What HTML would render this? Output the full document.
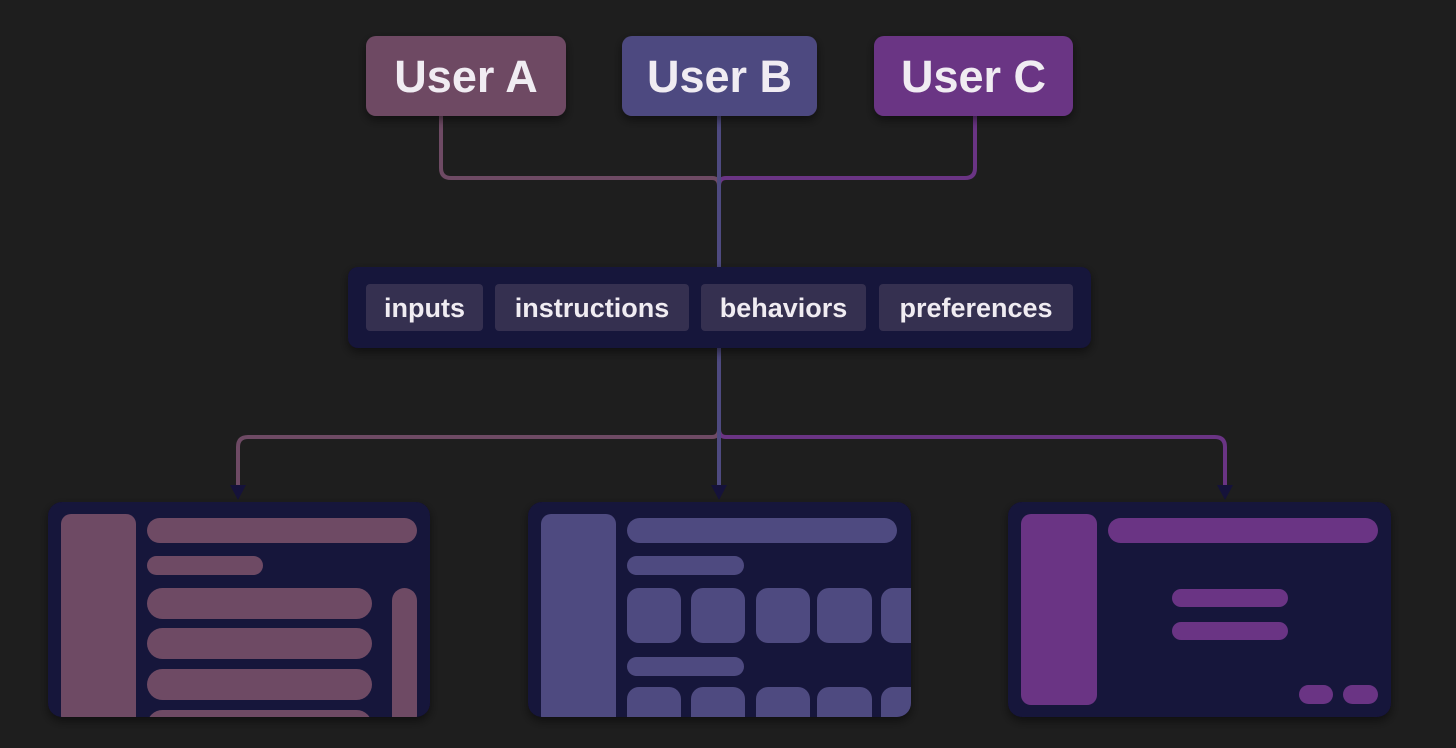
<!DOCTYPE html>
<html><head><meta charset="utf-8"><style>
html,body{margin:0;padding:0;background:#1e1e1e;}
svg{display:block}
text{font-family:"Liberation Sans",sans-serif;font-weight:bold;fill:#f0ecf2}
</style></head><body>
<svg width="1456" height="748" viewBox="0 0 1456 748" xmlns="http://www.w3.org/2000/svg">
<defs>
<filter id="sh" x="-10%" y="-10%" width="120%" height="130%"><feDropShadow dx="0" dy="4" stdDeviation="5" flood-color="#000" flood-opacity="0.5"/></filter>
<clipPath id="c1"><rect x="48" y="502" width="382" height="215" rx="14"/></clipPath>
<clipPath id="c2"><rect x="528" y="502" width="383" height="215" rx="14"/></clipPath>
<clipPath id="c3"><rect x="1008" y="502" width="383" height="215" rx="14"/></clipPath>
</defs>
<path d="M441 116 V168 Q441 178 451 178 H712 Q719 178 719 186" fill="none" stroke="#6e4a64" stroke-width="4"/>
<path d="M975 116 V168 Q975 178 965 178 H726 Q719 178 719 186" fill="none" stroke="#6a3484" stroke-width="4"/>
<line x1="719" y1="116" x2="719" y2="268" stroke="#4e4a80" stroke-width="4"/>
<path d="M719 429 Q719 437 712 437 H248 Q238 437 238 447 V488" fill="none" stroke="#6e4a64" stroke-width="4"/>
<path d="M719 429 Q719 437 726 437 H1215 Q1225 437 1225 447 V488" fill="none" stroke="#6a3484" stroke-width="4"/>
<line x1="719" y1="348" x2="719" y2="488" stroke="#4e4a80" stroke-width="4"/>
<polygon points="230,485 246,485 238,500" fill="#15123a"/>
<polygon points="711,485 727,485 719,500" fill="#15123a"/>
<polygon points="1217,485 1233,485 1225,500" fill="#15123a"/>
<rect x="366" y="36" width="200" height="80" rx="10" fill="#6e4a64" filter="url(#sh)"/>
<rect x="622" y="36" width="195" height="80" rx="10" fill="#4e4a80" filter="url(#sh)"/>
<rect x="874" y="36" width="199" height="80" rx="10" fill="#6a3484" filter="url(#sh)"/>
<text x="466" y="92" font-size="45" text-anchor="middle">User A</text>
<text x="719.5" y="92" font-size="45" text-anchor="middle">User B</text>
<text x="973.5" y="92" font-size="45" text-anchor="middle">User C</text>
<rect x="348" y="267" width="743" height="81" rx="10" fill="#15123a" filter="url(#sh)"/>
<rect x="366" y="284" width="117" height="47" rx="4" fill="#353050"/>
<rect x="495" y="284" width="194" height="47" rx="4" fill="#353050"/>
<rect x="701" y="284" width="165" height="47" rx="4" fill="#353050"/>
<rect x="879" y="284" width="194" height="47" rx="4" fill="#353050"/>
<text x="424.5" y="317" font-size="27" text-anchor="middle">inputs</text>
<text x="592" y="317" font-size="27" text-anchor="middle">instructions</text>
<text x="783.5" y="317" font-size="27" text-anchor="middle">behaviors</text>
<text x="976" y="317" font-size="27" text-anchor="middle">preferences</text>
<rect x="48" y="502" width="382" height="215" rx="14" fill="#15123a" filter="url(#sh)"/>
<g clip-path="url(#c1)" fill="#6e4a64">
<rect x="61" y="514" width="75" height="220" rx="10"/>
<rect x="147" y="518" width="270" height="25" rx="12.5"/>
<rect x="147" y="556" width="116" height="19" rx="9.5"/>
<rect x="147" y="588" width="225" height="31" rx="15.5"/>
<rect x="147" y="628" width="225" height="31" rx="15.5"/>
<rect x="147" y="669" width="225" height="31" rx="15.5"/>
<rect x="147" y="710" width="225" height="31" rx="15.5"/>
<rect x="392" y="588" width="25" height="150" rx="12.5"/>
</g>
<rect x="528" y="502" width="383" height="215" rx="14" fill="#15123a" filter="url(#sh)"/>
<g clip-path="url(#c2)" fill="#4e4a80">
<rect x="541" y="514" width="75" height="220" rx="10"/>
<rect x="627" y="518" width="270" height="25" rx="12.5"/>
<rect x="627" y="556" width="117" height="19" rx="9.5"/>
<rect x="627" y="588" width="54" height="55" rx="12"/>
<rect x="691" y="588" width="54" height="55" rx="12"/>
<rect x="756" y="588" width="54" height="55" rx="12"/>
<rect x="817" y="588" width="55" height="55" rx="12"/>
<rect x="881" y="588" width="54" height="55" rx="12"/>
<rect x="627" y="657" width="117" height="19" rx="9.5"/>
<rect x="627" y="687" width="54" height="55" rx="12"/>
<rect x="691" y="687" width="54" height="55" rx="12"/>
<rect x="756" y="687" width="54" height="55" rx="12"/>
<rect x="817" y="687" width="55" height="55" rx="12"/>
<rect x="881" y="687" width="54" height="55" rx="12"/>
</g>
<rect x="1008" y="502" width="383" height="215" rx="14" fill="#15123a" filter="url(#sh)"/>
<g clip-path="url(#c3)" fill="#6a3484">
<rect x="1021" y="514" width="76" height="191" rx="10"/>
<rect x="1108" y="518" width="270" height="25" rx="12.5"/>
<rect x="1172" y="589" width="116" height="18" rx="9"/>
<rect x="1172" y="622" width="116" height="18" rx="9"/>
<rect x="1299" y="685" width="34" height="19" rx="9.5"/>
<rect x="1343" y="685" width="35" height="19" rx="9.5"/>
</g>
</svg>
</body></html>
